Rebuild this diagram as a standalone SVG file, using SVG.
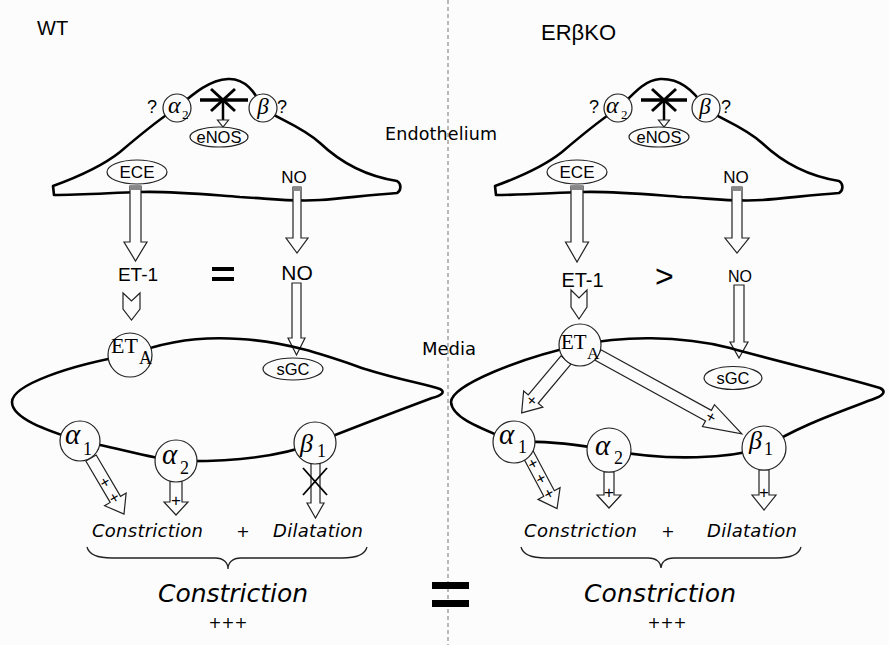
<svg xmlns="http://www.w3.org/2000/svg" width="889" height="645" viewBox="0 0 889 645">
<style>
.bg{fill:#fcfcfc}
.cell{fill:none;stroke:#000;stroke-width:2.6;stroke-linejoin:round}
.node{fill:#fcfcfc;stroke:#222;stroke-width:1.2}
.arrow{fill:#fcfcfc;stroke:#222;stroke-width:1.2}
.stub{fill:#888}
.sans{font-family:"Liberation Sans",Arial,sans-serif;fill:#000}
.verd{font-family:"DejaVu Sans",Verdana,sans-serif;fill:#000}
.vit{font-family:"DejaVu Sans",Verdana,sans-serif;font-style:italic;fill:#000}
.serif{font-family:"Liberation Serif","Times New Roman",serif;fill:#000}
.gk{font-family:"Liberation Serif","Times New Roman",serif;font-style:italic;fill:#000}
.bar{stroke:#000;stroke-width:3.5}
.xl{stroke:#000;stroke-width:3}
.thin{stroke:#000;stroke-width:1.8}
.brace{fill:none;stroke:#222;stroke-width:1.3}
</style>
<rect class="bg" x="0" y="0" width="889" height="645"/>
<line x1="448" y1="0" x2="448" y2="645" stroke="#777" stroke-width="1" stroke-dasharray="4,3"/>

<!-- cell outlines (endothelium) -->
<g id="endothelium-wt">
<path class="cell" d="M53,186 C75,178 100,168 120,152 C140,135 160,118 177,108 C195,92 210,80 228,79 C245,78 255,92 263,108 C275,118 300,125 320,143 C340,162 365,176 397,181 C402,184 401,191 397,193 C370,195 345,198 320,200 C290,202 265,198 240,197 C200,194 170,191 140,192 C110,193 80,195 54,195 Z"/>
</g>
<g id="endothelium-ko">
<path class="cell" d="M495,186 C517,178 542,168 562,152 C582,135 602,118 619,108 C635,92 645,80 660,79 C680,78 695,92 705,108 C717,118 742,125 762,143 C782,162 807,176 839,181 C844,184 843,191 839,193 C812,195 787,198 762,200 C732,202 707,198 682,197 C642,194 612,191 582,192 C552,193 522,195 496,195 Z"/>
</g>

<!-- connectors -->
<g id="connectors">
<!-- WT -->
<polygon class="arrow" points="130,186 141,186 141,242 147,242 135.5,261 124,242 130,242"/>
<rect class="stub" x="130" y="186" width="11" height="4"/>
<polygon class="arrow" points="293,187 301,187 301,238 308,238 297,253 286,238 293,238"/>
<rect class="stub" x="293" y="187" width="8" height="4"/>
<polygon class="arrow" points="123,293 131.5,301 140,293 140,309 131.5,320 123,309"/>
<polygon class="arrow" points="292,283 301,283 301,338 305,338 296.5,355 288,338 292,338"/>
<g transform="translate(91,458) rotate(59.5)">
<polygon class="arrow" points="0,-6 48,-6 48,-12.5 65,0 48,12.5 48,6 0,6"/>
<text class="sans" x="28" y="5.5" font-size="16" text-anchor="middle">+</text>
<text class="sans" x="46" y="5.5" font-size="16" text-anchor="middle">+</text>
</g>
<polygon class="arrow" points="170,481 182,481 182,502 188,502 176,515 164,502 170,502"/>
<text class="sans" x="176" y="506" font-size="17" text-anchor="middle">+</text>
<polygon class="arrow" points="311,463 320,463 320,503 324,503 315.5,518 307,503 311,503"/>
<line class="thin" x1="303" y1="468" x2="327" y2="495"/>
<line class="thin" x1="327" y1="468" x2="303" y2="495"/>
<!-- KO -->
<polygon class="arrow" points="571,186 583,186 583,242 588.5,242 577,262 565.5,242 571,242"/>
<rect class="stub" x="571" y="186" width="12" height="4"/>
<polygon class="arrow" points="732,187 742,187 742,238 749,238 737,253 725,238 732,238"/>
<rect class="stub" x="732" y="187" width="10" height="4"/>
<polygon class="arrow" points="571,290 579,298 587,290 587,307 579,319 571,307"/>
<polygon class="arrow" points="734,285 744,285 744,342 748,342 739,358 730,342 734,342"/>
<g transform="translate(566,360) rotate(130)">
<polygon class="arrow" points="0,-6.5 51,-6.5 51,-12.5 69,0 51,12.5 51,6.5 0,6.5"/>
<text class="sans" x="53" y="5.5" font-size="16" text-anchor="middle">+</text>
</g>
<g transform="translate(598,355) rotate(28.75)">
<polygon class="arrow" points="0,-6 126,-6 126,-12.5 164,0 126,12.5 126,6 0,6"/>
<text class="sans" x="129" y="5.5" font-size="16" text-anchor="middle">+</text>
</g>
<g transform="translate(527,452) rotate(62)">
<polygon class="arrow" points="0,-6 47,-6 47,-12.5 64,0 47,12.5 47,6 0,6"/>
<text class="sans" x="13" y="5.5" font-size="16" text-anchor="middle">+</text>
<text class="sans" x="30" y="5.5" font-size="16" text-anchor="middle">+</text>
<text class="sans" x="47" y="5.5" font-size="16" text-anchor="middle">+</text>
</g>
<polygon class="arrow" points="604,472 614,472 614,495 621,495 609,508 597,495 604,495"/>
<text class="sans" x="609" y="498" font-size="17" text-anchor="middle">+</text>
<polygon class="arrow" points="759,470 769,470 769,495 776,495 764,510 752,495 759,495"/>
<text class="sans" x="764" y="498" font-size="17" text-anchor="middle">+</text>
</g>

<!-- media outlines -->
<g id="media-wt">
<path class="cell" d="M130,355 C165,341 200,336 240,339 C290,342 330,357 365,369 C400,380 425,384 440,389 C446,392 441,396 432,398 C400,410 360,425 315,443 C285,455 240,462 176,461 C150,458 110,446 80,441 C45,430 12,418 12,402 C12,385 70,365 130,355 Z"/>
</g>
<g id="media-ko">
<path class="cell" d="M580,345 C620,336 680,335 730,348 C780,362 840,376 880,388 C886,391 884,395 876,398 C840,412 800,425 764,448 C730,458 670,462 609,450 C580,445 545,440 514,442 C480,428 452,418 451,402 C452,385 520,358 580,345 Z"/>
</g>

<!-- endothelium WT nodes -->
<g id="enos-block-wt">
<line class="bar" x1="200" y1="100" x2="248" y2="100"/>
<line class="xl" x1="211" y1="89" x2="235" y2="111"/>
<line class="xl" x1="235" y1="89" x2="211" y2="111"/>
<line x1="223" y1="100" x2="223" y2="120" stroke="#000" stroke-width="2.5"/>
<polygon class="arrow" points="217.5,120 228.5,120 223,127"/>
</g>
<g id="alpha2-endo-wt"><circle class="node" cx="177" cy="108" r="14"/><text class="gk" x="168" y="113" font-size="24">α</text><text class="serif" x="182" y="119" font-size="13">2</text><text class="sans" x="147" y="113" font-size="18">?</text></g>
<g id="beta-endo-wt"><circle class="node" cx="263" cy="108" r="14"/><text class="gk" x="263" y="114" font-size="23" text-anchor="middle">β</text><text class="sans" x="277" y="113" font-size="18">?</text></g>
<g id="enos-wt"><ellipse class="node" cx="219" cy="137" rx="29" ry="10"/><text class="sans" x="219" y="142.5" font-size="16.5" text-anchor="middle">eNOS</text></g>
<g id="ece-wt"><ellipse class="node" cx="137" cy="172" rx="30" ry="12"/><text class="sans" x="137" y="178" font-size="17" text-anchor="middle">ECE</text></g>
<g id="no-endo-wt"><text class="sans" x="294" y="183" font-size="17" text-anchor="middle">NO</text></g>

<!-- endothelium KO nodes -->
<g id="enos-block-ko">
<line class="bar" x1="641" y1="100" x2="687" y2="100"/>
<line class="xl" x1="652" y1="89" x2="676" y2="111"/>
<line class="xl" x1="676" y1="89" x2="652" y2="111"/>
<line x1="664" y1="100" x2="664" y2="120" stroke="#000" stroke-width="2.5"/>
<polygon class="arrow" points="658.5,120 669.5,120 664,127"/>
</g>
<g id="alpha2-endo-ko"><circle class="node" cx="618" cy="108" r="14"/><text class="gk" x="606" y="113" font-size="24">α</text><text class="serif" x="621" y="119" font-size="13">2</text><text class="sans" x="589" y="113" font-size="18">?</text></g>
<g id="beta-endo-ko"><circle class="node" cx="706" cy="108" r="14"/><text class="gk" x="705" y="114" font-size="23" text-anchor="middle">β</text><text class="sans" x="721" y="113" font-size="18">?</text></g>
<g id="enos-ko"><ellipse class="node" cx="659" cy="137" rx="30" ry="10"/><text class="sans" x="659" y="142.5" font-size="16.5" text-anchor="middle">eNOS</text></g>
<g id="ece-ko"><ellipse class="node" cx="577" cy="172" rx="30" ry="12"/><text class="sans" x="577" y="178" font-size="17" text-anchor="middle">ECE</text></g>
<g id="no-endo-ko"><text class="sans" x="736" y="183" font-size="17" text-anchor="middle">NO</text></g>

<!-- media WT nodes -->
<g id="eta-wt"><circle class="node" cx="130" cy="355" r="22"/><text class="serif" x="111" y="353" font-size="22">ET</text><text class="serif" x="139" y="364" font-size="18">A</text></g>
<g id="sgc-wt"><ellipse class="node" cx="293" cy="369" rx="30" ry="11"/><text class="sans" x="293" y="374.5" font-size="16.5" text-anchor="middle">sGC</text></g>
<g id="alpha1-wt"><circle class="node" cx="80" cy="441" r="20"/><text class="gk" x="65" y="444" font-size="29">α</text><text class="serif" x="83" y="455" font-size="18">1</text></g>
<g id="alpha2-wt"><circle class="node" cx="176" cy="461" r="21"/><text class="gk" x="162" y="464" font-size="29">α</text><text class="serif" x="180" y="474" font-size="18">2</text></g>
<g id="beta1-wt"><circle class="node" cx="315" cy="443" r="21"/><text class="gk" x="300" y="452" font-size="26">β</text><text class="serif" x="317" y="457" font-size="18">1</text></g>

<!-- media KO nodes -->
<g id="eta-ko"><circle class="node" cx="580" cy="345" r="21"/><text class="serif" x="561" y="349" font-size="21">ET</text><text class="serif" x="587" y="359" font-size="17">A</text></g>
<g id="sgc-ko"><ellipse class="node" cx="733" cy="378" rx="29" ry="11.5"/><text class="sans" x="733" y="383.5" font-size="16.5" text-anchor="middle">sGC</text></g>
<g id="alpha1-ko"><circle class="node" cx="514" cy="442" r="21"/><text class="gk" x="499" y="444" font-size="29">α</text><text class="serif" x="518" y="453" font-size="18">1</text></g>
<g id="alpha2-ko"><circle class="node" cx="609" cy="450" r="22"/><text class="gk" x="595" y="455" font-size="29">α</text><text class="serif" x="614" y="464" font-size="18">2</text></g>
<g id="beta1-ko"><circle class="node" cx="764" cy="448" r="22"/><text class="gk" x="749" y="449" font-size="26">β</text><text class="serif" x="764" y="455" font-size="18">1</text></g>

<!-- labels -->
<g id="labels">
<text class="sans" x="37" y="35" font-size="20">WT</text>
<text class="sans" x="541" y="40" font-size="22">ERβKO</text>
<text class="verd" x="385" y="140" font-size="17.5" textLength="112">Endothelium</text>
<text class="verd" x="422" y="355" font-size="18">Media</text>
<text class="sans" x="138" y="281" font-size="19" text-anchor="middle">ET-1</text>
<text class="sans" x="297" y="280" font-size="21" text-anchor="middle">NO</text>
<rect x="212" y="267" width="22" height="4"/>
<rect x="212" y="277" width="22" height="4"/>
<text class="sans" x="582.5" y="287" font-size="20" text-anchor="middle">ET-1</text>
<text class="sans" x="740" y="282" font-size="16" text-anchor="middle">NO</text>
<text class="sans" x="655" y="287" font-size="32">&gt;</text>
</g>

<g id="outcome-wt">
<text class="vit" x="92" y="537" font-size="18" textLength="111">Constriction</text>
<text class="verd" x="243" y="537" font-size="16" text-anchor="middle">+</text>
<text class="vit" x="273" y="537" font-size="18" textLength="90">Dilatation</text>
<path class="brace" d="M87,547 C89,555 97,558 112,558 L215,558 C224,558 228,563 228,569 C228,563 232,558 241,558 L342,558 C357,558 365,555 367,547"/>
<text class="vit" x="158" y="602" font-size="25" textLength="150">Constriction</text>
<text class="verd" x="228" y="628" font-size="15.5" text-anchor="middle">+++</text>
</g>
<g id="outcome-ko">
<text class="vit" x="524" y="537" font-size="18" textLength="113">Constriction</text>
<text class="verd" x="668" y="537" font-size="16" text-anchor="middle">+</text>
<text class="vit" x="707" y="537" font-size="18" textLength="90">Dilatation</text>
<path class="brace" d="M521,547 C523,555 531,558 546,558 L648,558 C657,558 661,563 661,568 C661,563 665,558 674,558 L776,558 C791,558 799,555 801,547"/>
<text class="vit" x="584" y="602" font-size="25" textLength="152">Constriction</text>
<text class="verd" x="667" y="628" font-size="15.5" text-anchor="middle">+++</text>
</g>
<g id="equal-sign">
<rect x="432" y="582" width="37" height="7"/>
<rect x="432" y="600" width="37" height="7"/>
</g>
</svg>
